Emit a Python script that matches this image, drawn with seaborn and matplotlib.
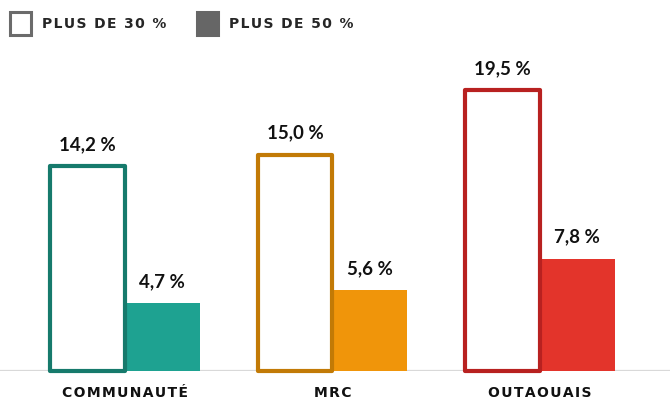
import matplotlib
matplotlib.use("Agg")
import matplotlib.pyplot as plt
from matplotlib.patches import Patch
import seaborn as sns
import pandas as pd

categories = ["COMMUNAUTÉ", "MRC", "OUTAOUAIS"]
series = ["PLUS DE 30 %", "PLUS DE 50 %"]
plus30 = [14.2, 15.0, 19.5]
plus50 = [4.7, 5.6, 7.8]
value_labels_30 = ["14,2 %", "15,0 %", "19,5 %"]
value_labels_50 = ["4,7 %", "5,6 %", "7,8 %"]
outline_colors = ["#167a6c", "#c27a06", "#b82120"]
fill_colors = ["#1ea291", "#f0950a", "#e3342b"]

df = pd.DataFrame({
    "cat": categories * 2,
    "serie": [series[0]] * 3 + [series[1]] * 3,
    "val": plus30 + plus50,
})

sns.set_theme(style="white")
plt.rcParams["font.family"] = ["Lato", "DejaVu Sans"]

def spaced(s):
    return "\u200a".join(list(s))

fig = plt.figure(figsize=(6.7, 4.0), dpi=100)
ax = fig.add_axes([0, 29 / 400, 1, 321 / 400])

sns.barplot(data=df, x="cat", y="val", hue="serie", order=categories,
            hue_order=series, width=0.72, ax=ax, legend=False,
            saturation=1, err_kws={"linewidth": 0})

ax.set_xlim(-0.602, 2.627)
ax.set_ylim(0, 22.28)

c30, c50 = ax.containers[0], ax.containers[1]
for i, bar in enumerate(c30.patches):
    bar.set_facecolor("white")
    bar.set_edgecolor(outline_colors[i])
    bar.set_linewidth(3.0)
    bar.set_joinstyle("round")
    bar.set_clip_on(False)
    bar.set_zorder(3)
for i, bar in enumerate(c50.patches):
    bar.set_facecolor(fill_colors[i])
    bar.set_edgecolor("none")
    bar.set_linewidth(0)
    bar.set_zorder(2)

ax.axhline(0, color="#d9d9d9", lw=1.6, zorder=1)

for cont, labs in ((c30, value_labels_30), (c50, value_labels_50)):
    for bar, lab in zip(cont.patches, labs):
        x = bar.get_x() + bar.get_width() / 2
        ax.annotate(lab, (x, bar.get_height()), xytext=(0, 9.5),
                    textcoords="offset points", ha="center", va="bottom",
                    fontsize=13.5, fontweight="bold", color="#111111")

ax.set_xlabel("")
ax.set_ylabel("")
ax.set_yticks([])
ax.set_xticks(range(len(categories)))
ax.set_xticklabels([spaced(c) for c in categories], fontsize=10,
                   fontweight="bold", color="#111111",
                   family=["DejaVu Sans"])
ax.tick_params(axis="x", length=0, pad=11)
for s in ax.spines.values():
    s.set_visible(False)

handles = [Patch(facecolor="white", edgecolor="#6b6b6b", linewidth=2.2),
           Patch(facecolor="#666666", edgecolor="#666666", linewidth=2.2)]
leg = fig.legend(handles, [spaced(s) for s in series], loc="upper left",
                 bbox_to_anchor=(-0.004, 1.0), ncol=2, frameon=False,
                 handlelength=1.5, handleheight=2.1, handletextpad=0.8,
                 columnspacing=2.25, prop={"family": "DejaVu Sans",
                                           "weight": "bold", "size": 10})

fig.savefig("out.png", dpi=100)
